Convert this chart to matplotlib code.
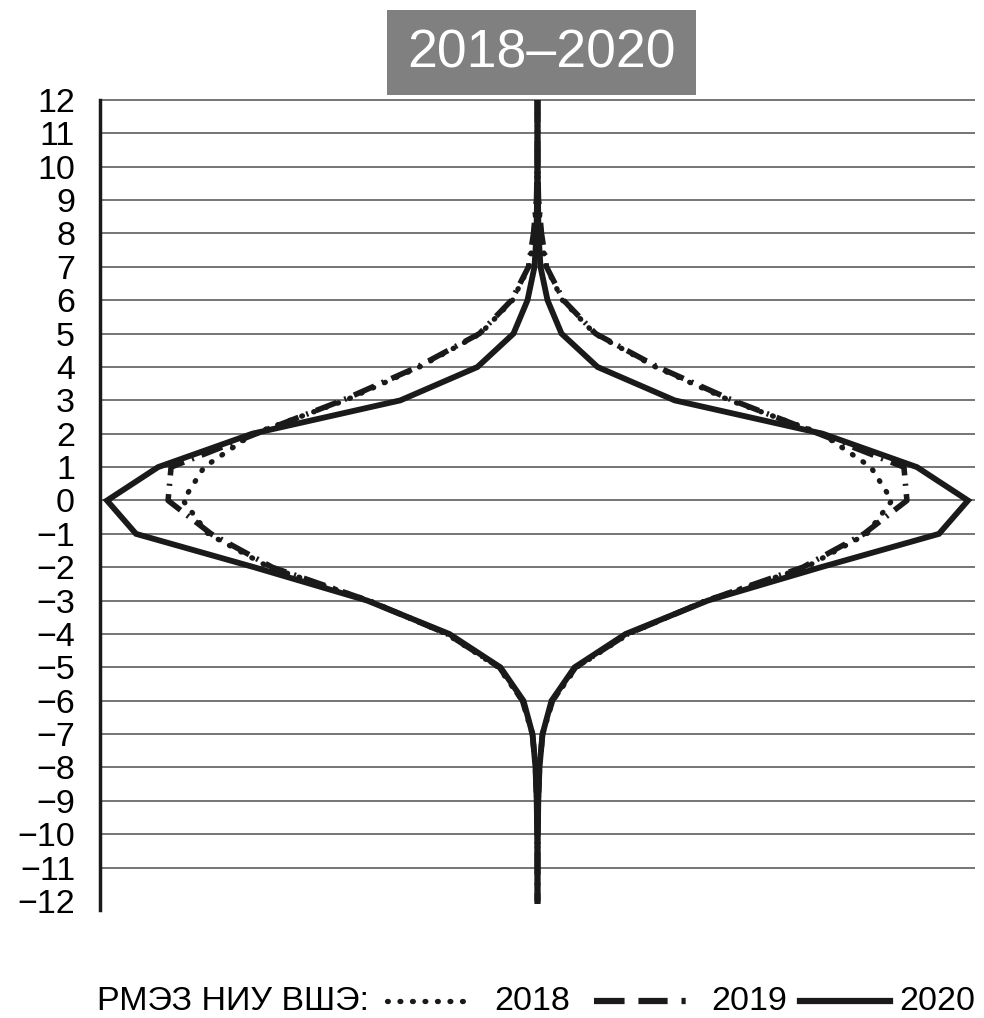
import matplotlib
matplotlib.use("Agg")
import matplotlib.pyplot as plt
from matplotlib.lines import Line2D
from matplotlib.patches import Rectangle

plt.rcParams['font.family'] = ['Liberation Sans', 'DejaVu Sans']
plt.rcParams['lines.scale_dashes'] = False

# deviation levels (vertical axis)
levels = [12, 11, 10, 9, 8, 7, 6, 5, 4, 3, 2, 1, 0,
          -1, -2, -3, -4, -5, -6, -7, -8, -9, -10, -11, -12]

# half-widths of the distribution for each year
v2018 = [0, 0, 0.03, 0.1, 0.35, 0.85, 2.5, 5.7, 11.8, 19.2, 28.4, 33.3, 35.4,
         32.9, 26.8, 16.8, 9.1, 3.9, 1.5, 0.5, 0.2, 0.08, 0.03, 0, 0]
v2019 = [0, 0, 0.03, 0.1, 0.4, 0.9, 2.6, 5.8, 12.0, 19.5, 28.1, 36.6, 36.9,
         32.6, 26.5, 16.9, 9.0, 3.8, 1.5, 0.5, 0.2, 0.08, 0.03, 0, 0]
v2020 = [0, 0, 0.02, 0.05, 0.1, 0.3, 1.0, 2.4, 6.0, 13.7, 28.5, 37.9, 43.0,
         40.1, 28.3, 17.0, 8.8, 3.7, 1.4, 0.5, 0.2, 0.08, 0.03, 0, 0]

title = "2018–2020"
legend_label = "РМЭЗ НИУ ВШЭ:"
years = ["2018", "2019", "2020"]

fig = plt.figure(figsize=(9.84, 10.18), dpi=100)
ax = fig.add_axes([100 / 984, 1 - 910 / 1018, 875 / 984, 810 / 1018])

ax.set_xlim(-43.7, 43.7)
ax.set_ylim(-12.27, 12)

# horizontal rules
ax.hlines([l for l in levels if l > -12], -43.7, 43.7, color='#6a6a6a',
          lw=1.3, zorder=1, clip_on=False)

ink = '#1a1a1a'
dot_style = dict(color=ink, lw=3.8, dashes=(0.6, 8.6), dash_capstyle='round', zorder=3)
dash_style = dict(color=ink, lw=4.0, dashes=(16, 6, 1.5, 6), dash_capstyle='butt', zorder=3)
solid_style = dict(color=ink, lw=4.2, solid_joinstyle='miter', zorder=2)

for sign in (-1, 1):
    ax.plot([sign * v for v in v2018], levels, **dot_style)
    ax.plot([sign * v for v in v2019], levels, **dash_style)
    ax.plot([sign * v for v in v2020], levels, **solid_style)

ax.set_yticks(levels)
ax.set_yticklabels([str(l).replace('-', '−') for l in levels], fontsize=24.5)
ax.tick_params(axis='y', length=0, pad=18)
ax.set_xticks([])
for side in ('top', 'right', 'bottom'):
    ax.spines[side].set_visible(False)
ax.spines['left'].set_linewidth(2.5)
ax.spines['left'].set_color(ink)

# title box
fig.patches.append(Rectangle((387 / 984, 1 - 95 / 1018), 309 / 984, 85 / 1018,
                             transform=fig.transFigure, facecolor='#808080',
                             edgecolor='none'))
fig.text(541 / 984, 1 - 53 / 1018, title, color='white', fontsize=38.5,
         ha='center', va='center')

# legend row
ly = 1 - 1001 / 1018
fs = 24.5
fig.text(97 / 984, ly, legend_label, fontsize=fs, ha='left', va='center')
fig.add_artist(Line2D([387 / 984, 474 / 984], [ly, ly], transform=fig.transFigure,
                      color=ink, lw=3.8, dashes=(0.6, 8.4), dash_capstyle='round'))
fig.text(494 / 984, ly, years[0], fontsize=fs, ha='left', va='center')
fig.add_artist(Line2D([594 / 984, 690 / 984], [ly, ly], transform=fig.transFigure,
                      color=ink, lw=4.5, dashes=(22, 10, 21, 10, 3, 40),
                      dash_capstyle='butt'))
fig.text(711 / 984, ly, years[1], fontsize=fs, ha='left', va='center')
fig.add_artist(Line2D([800 / 984, 890 / 984], [ly, ly], transform=fig.transFigure,
                      color=ink, lw=4.5))
fig.text(975 / 984, ly, years[2], fontsize=fs, ha='right', va='center')

fig.savefig("out.png", dpi=100)
